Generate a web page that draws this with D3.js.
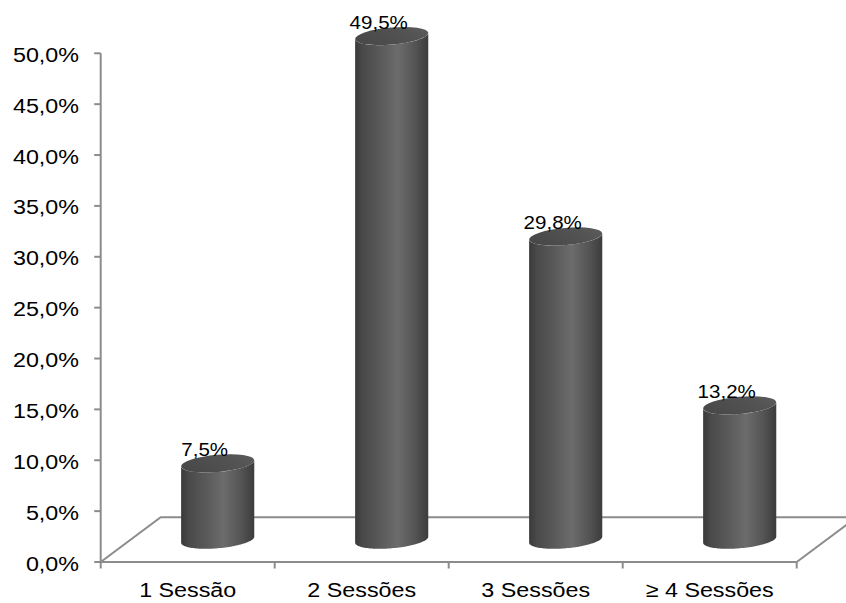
<!DOCTYPE html>
<html>
<head>
<meta charset="utf-8">
<script src="https://cdn.jsdelivr.net/npm/d3@7"></script>
<style>
  html, body { margin: 0; padding: 0; background: #fff; }
  svg { display: block; }
  text { font-family: "Liberation Sans", Arial, sans-serif; fill: #000; }
</style>
</head>
<body>
<svg id="chart" width="846" height="603"></svg>
<script>
// Distribution of patients by number of sessions
const categories = ["1 Sessão", "2 Sessões", "3 Sessões", "≥ 4 Sessões"];
const values = [7.5, 49.5, 29.8, 13.2];
const yTicks = [0, 5, 10, 15, 20, 25, 30, 35, 40, 45, 50];

(function draw() {
  const svg = d3.select("#chart");
  const defs = svg.append("defs");

  // plot frame (front plane) and 3D floor depth
  const plotLeft = 100.7, plotRight = 796.7, plotBottom = 562, plotTop = 53.3;
  const depthX = 60, depthY = -44.7;

  const x = d3.scaleBand().domain(categories).range([plotLeft, plotRight]).padding(0);
  const y = d3.scaleLinear().domain([0, 50]).range([plotBottom, plotTop]);

  const fmt = v => d3.format(".1f")(v).replace(".", ",") + "%";
  const stretch = 1.11;
  const axisColor = "#8c8c8c";

  // side shading of the cylinders
  const g1 = defs.append("linearGradient").attr("id", "cylSide")
    .attr("x1", "0").attr("x2", "1").attr("y1", "0").attr("y2", "0");
  [[0, "#393939"], [0.1, "#494949"], [0.35, "#5a5a5a"], [0.58, "#6c6c6c"],
   [0.82, "#545454"], [1, "#3c3c3c"]].forEach(([o, c]) =>
    g1.append("stop").attr("offset", o).attr("stop-color", c));

  const g2 = defs.append("linearGradient").attr("id", "cylTop")
    .attr("x1", "0").attr("x2", "1").attr("y1", "0.3").attr("y2", "0");
  [[0, "#494949"], [0.6, "#535353"], [1, "#5d5d5d"]].forEach(([o, c]) =>
    g2.append("stop").attr("offset", o).attr("stop-color", c));

  // floor
  svg.append("path")
    .attr("fill", "none").attr("stroke", axisColor).attr("stroke-width", 2)
    .attr("d", d3.line()([
      [plotLeft, plotBottom], [plotLeft + depthX, plotBottom + depthY],
      [plotRight + depthX, plotBottom + depthY], [plotRight, plotBottom]
    ]));

  // y axis
  const yAxis = svg.append("g");
  yAxis.append("line").attr("x1", plotLeft).attr("x2", plotLeft)
    .attr("y1", y(50)).attr("y2", plotBottom)
    .attr("stroke", axisColor).attr("stroke-width", 2);
  yAxis.selectAll("line.tick").data(yTicks).join("line")
    .attr("class", "tick")
    .attr("x1", plotLeft - 6.5).attr("x2", plotLeft)
    .attr("y1", d => y(d)).attr("y2", d => y(d))
    .attr("stroke", axisColor).attr("stroke-width", 2);
  yAxis.selectAll("text").data(yTicks).join("text")
    .attr("transform", d => `translate(79,${y(d) + 8.5}) scale(${stretch},1)`)
    .attr("text-anchor", "end")
    .attr("font-size", 21)
    .text(d => fmt(d));

  // x axis (front edge of the floor)
  const xAxis = svg.append("g");
  xAxis.append("line").attr("x1", plotLeft).attr("x2", plotRight)
    .attr("y1", plotBottom).attr("y2", plotBottom)
    .attr("stroke", axisColor).attr("stroke-width", 2);
  const bounds = categories.map(c => x(c)).concat([plotRight]);
  xAxis.selectAll("line.tick").data(bounds).join("line")
    .attr("class", "tick")
    .attr("x1", d => d).attr("x2", d => d)
    .attr("y1", plotBottom).attr("y2", plotBottom + 6.5)
    .attr("stroke", axisColor).attr("stroke-width", 2);
  xAxis.selectAll("text").data(categories).join("text")
    .attr("transform", c => `translate(${x(c) + x.bandwidth() / 2},596.5) scale(${stretch},1)`)
    .attr("text-anchor", "middle")
    .attr("font-size", 21)
    .text(c => c);

  // cylinders
  const rx = 36.7, ry = 8.6, theta = -5 * Math.PI / 180;
  const ellPt = (cx, cy, t) => [
    cx + rx * Math.cos(t) * Math.cos(theta) - ry * Math.sin(t) * Math.sin(theta),
    cy + rx * Math.cos(t) * Math.sin(theta) + ry * Math.sin(t) * Math.cos(theta)
  ];
  // parameter of the rightmost / leftmost points of the tilted ellipse
  const tR = Math.atan(-(ry / rx) * Math.tan(theta));
  const tL = tR + Math.PI;
  const arc = (cx, cy, t0, t1, n = 60) =>
    d3.range(n + 1).map(i => ellPt(cx, cy, t0 + (t1 - t0) * i / n));

  const bars = svg.append("g");
  categories.forEach((c, i) => {
    const v = values[i];
    const cx = x(c) + x.bandwidth() / 2 + depthX / 2;
    const baseY = y(0) + depthY / 2;
    const topY = y(v) + depthY / 2;

    // side: left edge down, front half of base, right edge up, front half of top back
    const pts = [ellPt(cx, topY, tL)]
      .concat(arc(cx, baseY, tL, tR))
      .concat(arc(cx, topY, tR, tL));
    bars.append("path")
      .attr("d", d3.line()(pts) + "Z")
      .attr("fill", "url(#cylSide)");

    bars.append("ellipse")
      .attr("cx", cx).attr("cy", topY)
      .attr("rx", rx).attr("ry", ry)
      .attr("transform", `rotate(${theta * 180 / Math.PI},${cx},${topY})`)
      .attr("fill", "url(#cylTop)");

    bars.append("text")
      .attr("transform", `translate(${cx - 13},${topY - ry + 1.5}) scale(${stretch},1)`)
      .attr("text-anchor", "middle")
      .attr("font-size", 18.5)
      .text(fmt(v));
  });
})();
</script>
</body>
</html>
